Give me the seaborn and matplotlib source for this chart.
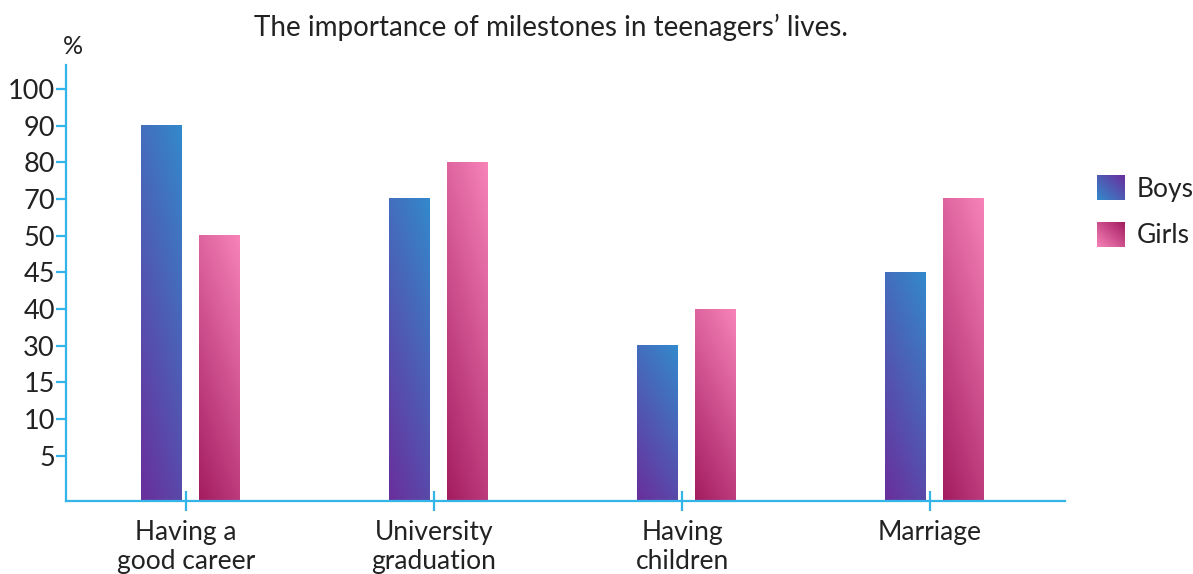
import numpy as np
import pandas as pd
import matplotlib
matplotlib.use("Agg")
import matplotlib.pyplot as plt
import seaborn as sns
from matplotlib.image import BboxImage
from matplotlib.transforms import Bbox, TransformedBbox
from matplotlib.legend_handler import HandlerBase
from matplotlib.colors import to_rgb

# ---- data -------------------------------------------------------------
milestones = ["Having a\ngood career", "University\ngraduation",
              "Having\nchildren", "Marriage"]
groups = ["Boys", "Girls"]
boys = [90, 70, 30, 45]
girls = [50, 80, 40, 70]
y_tick_values = [5, 10, 15, 30, 40, 45, 50, 70, 80, 90, 100]

title = "The importance of milestones in teenagers\u2019 lives."

# ---- styling ----------------------------------------------------------
axis_blue = "#33b5ea"
boys_low, boys_high = "#6a2e9b", "#3389cc"
girls_low, girls_high = "#a31c60", "#f783b9"
text_font = ["Lato", "DejaVu Sans"]

sns.set_theme(style="white")
plt.rcParams["font.family"] = text_font

df = pd.DataFrame({
    "milestone": milestones * 2,
    "group": [groups[0]] * len(milestones) + [groups[1]] * len(milestones),
    "pct": boys + girls,
})

fig = plt.figure(figsize=(11.93, 5.74), dpi=100)
ax = fig.add_axes([66 / 1193, 1 - 501 / 574, (1065 - 66) / 1193, (501 - 65) / 574])

sns.barplot(data=df, x="milestone", y="pct", hue="group", order=milestones,
            hue_order=groups, palette=[boys_high, girls_high], width=0.468,
            gap=0.295, errorbar=None, legend=False, ax=ax)

# Evenly spaced tick ladder: every listed value takes one equal step.
ladder_vals = np.array([0] + y_tick_values + [110], dtype=float)
ladder_pos = np.array([0.0] + [1.23 + k for k in range(len(y_tick_values))]
                      + [1.23 + len(y_tick_values)])


def forward(v):
    return np.interp(v, ladder_vals, ladder_pos)


def inverse(p):
    return np.interp(p, ladder_pos, ladder_vals)


ax.set_yscale("function", functions=(forward, inverse))
ax.set_ylim(0, 106.5)
ax.set_yticks(y_tick_values)
ax.set_yticklabels([str(v) for v in y_tick_values])
ax.yaxis.set_minor_locator(matplotlib.ticker.NullLocator())

tick_shift = -0.019
ax.set_xticks([i + tick_shift for i in range(len(milestones))])
ax.set_xticklabels(milestones, fontsize=19, linespacing=1.2,
                   family=text_font)
ax.set_xlim(tick_shift - 0.484, tick_shift + 3.544)
ax.set_xlabel("")
ax.set_ylabel("")

for side in ("top", "right"):
    ax.spines[side].set_visible(False)
for side in ("left", "bottom"):
    ax.spines[side].set_color(axis_blue)
    ax.spines[side].set_linewidth(1.6)

ax.tick_params(axis="y", direction="out", length=7, width=1.6,
               color=axis_blue, pad=1, labelsize=19.5, labelcolor="#222222",
               left=True)
ax.tick_params(axis="x", direction="inout", length=15, width=1.6,
               color=axis_blue, pad=6, labelcolor="#222222", bottom=True)


def gradient_rgb(low, high, n=128, wu=0.3, wv=0.7):
    """RGB array running from `low` (bottom-left) to `high` (top-right)."""
    u = np.linspace(0, 1, n)[None, :]
    v = np.linspace(0, 1, n)[:, None]
    t = np.clip(wu * u + wv * v, 0, 1)
    lo, hi = np.array(to_rgb(low)), np.array(to_rgb(high))
    return lo[None, None, :] * (1 - t[..., None]) + hi[None, None, :] * t[..., None]


# Paint each bar with its diagonal gradient
grad_ends = [(boys_low, boys_high), (girls_low, girls_high)]
for container, (lo, hi) in zip(ax.containers, grad_ends):
    for bar in container:
        x0, w = bar.get_x(), bar.get_width()
        y0, h = bar.get_y(), bar.get_height()
        bb = TransformedBbox(Bbox([[x0, y0], [x0 + w, y0 + h]]), ax.transData)
        img = BboxImage(bb, origin="lower", interpolation="bilinear")
        img.set_data(gradient_rgb(lo, hi))
        img.set_zorder(bar.get_zorder() + 0.1)
        ax.add_artist(img)


class GradientSwatch(HandlerBase):
    def __init__(self, low, high):
        super().__init__()
        self.low, self.high = low, high

    def create_artists(self, legend, orig_handle, xdescent, ydescent,
                       width, height, fontsize, trans):
        bb = TransformedBbox(Bbox.from_bounds(-xdescent, -ydescent,
                                              width, height), trans)
        img = BboxImage(bb, origin="lower", interpolation="bilinear")
        # swatches run the other way: top-right dark, bottom-left light
        img.set_data(gradient_rgb(self.high, self.low, wu=0.5, wv=0.5))
        return [img]


h_boys = plt.Rectangle((0, 0), 1, 1)
h_girls = plt.Rectangle((0, 0), 1, 1)
fig.legend([h_boys, h_girls], groups,
           handler_map={h_boys: GradientSwatch(boys_low, boys_high),
                        h_girls: GradientSwatch(girls_low, girls_high)},
           loc="upper left", bbox_to_anchor=(1097 / 1193, 1 - 176 / 574),
           frameon=False, fontsize=19, handlelength=1.05, handleheight=1.05,
           handletextpad=0.45, labelspacing=0.75, borderpad=0.0,
           borderaxespad=0.0, labelcolor="#222222")

fig.text(551 / 1193, 1 - 27 / 574, title, ha="center", va="center",
         fontsize=20, color="#222222")
fig.text(73 / 1193, 1 - 47 / 574, "%", ha="center", va="center",
         fontsize=18, color="#222222")

fig.savefig("out.png", dpi=100)
